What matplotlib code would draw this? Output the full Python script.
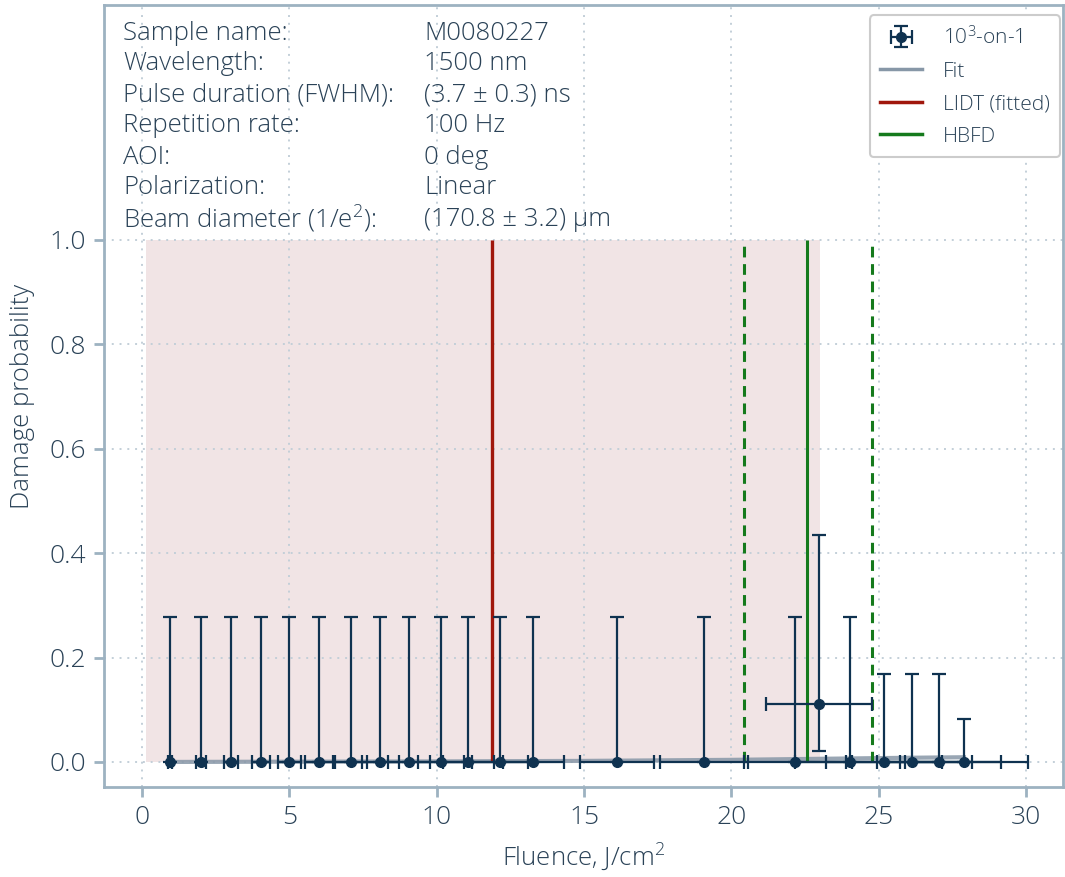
import matplotlib
matplotlib.use("Agg")
import matplotlib.pyplot as plt
import numpy as np

plt.rcParams['font.family'] = ['Open Sans', 'DejaVu Sans']
plt.rcParams['font.weight'] = 'light'
plt.rcParams['axes.labelweight'] = 'light'
plt.rcParams['mathtext.fontset'] = 'custom'
plt.rcParams['mathtext.rm'] = 'Open Sans:light'
plt.rcParams['mathtext.it'] = 'Open Sans:light'

# ---- data ----
fluence = [0.95, 2.0, 3.02, 4.04, 4.99, 6.0, 7.09, 8.08, 9.06, 10.15, 11.07,
           12.15, 13.27, 16.12, 19.07, 22.16, 22.97, 24.02, 25.18, 26.13, 27.04, 27.89]
probability = [0, 0, 0, 0, 0, 0, 0, 0, 0, 0, 0,
               0, 0, 0, 0, 0, 0.111, 0, 0, 0, 0, 0]
prob_err_low = [0, 0, 0, 0, 0, 0, 0, 0, 0, 0, 0,
                0, 0, 0, 0, 0, 0.09, 0, 0, 0, 0, 0]
prob_err_high = [0.277, 0.277, 0.277, 0.277, 0.277, 0.277, 0.277, 0.277, 0.277, 0.277, 0.277,
                 0.277, 0.277, 0.277, 0.277, 0.277, 0.324, 0.277, 0.168, 0.168, 0.168, 0.082]
fluence_rel_err = 0.078

fit_x = [0.95, 5.0, 10.0, 15.0, 20.0, 23.0, 26.0, 27.89]
fit_y = [0.0, 0.0005, 0.001, 0.002, 0.004, 0.006, 0.008, 0.009]

lidt = 11.88
hbfd = 22.55
hbfd_low = 20.43
hbfd_high = 24.77
shade_range = [0.15, 23.0]

info_labels = ["Sample name:", "Wavelength:", "Pulse duration (FWHM):", "Repetition rate:",
               "AOI:", "Polarization:", r"Beam diameter (1/e$^2$):"]
info_values = ["M0080227", "1500 nm", "(3.7 ± 0.3) ns", "100 Hz", "0 deg", "Linear",
               "(170.8 ± 3.2) µm"]

xticks = [0, 5, 10, 15, 20, 25, 30]
yticks = [0.0, 0.2, 0.4, 0.6, 0.8, 1.0]

# ---- style ----
navy = "#0f3250"
spine_c = "#9db2c1"
text_c = "#2a4257"
grid_c = "#c3cfd8"

fig = plt.figure(figsize=(10.65, 8.77), dpi=100)
ax = fig.add_axes([104/1065, 90/877, 959/1065, 782/877])

ax.set_xlim(-1.29, 31.25)
ax.set_ylim(-0.048, 1.45)

ax.fill_between(shade_range, 0, 1, color="#f1e4e5", zorder=0, linewidth=0)

ax.set_xticks(xticks)
ax.set_yticks(yticks)
ax.set_yticklabels([f"{v:.1f}" for v in yticks])
ax.grid(True, linestyle=(0, (1, 3)), color=grid_c, linewidth=1.4, zorder=0.5)
ax.set_axisbelow(True)

for s in ax.spines.values():
    s.set_color(spine_c)
    s.set_linewidth(2)
ax.tick_params(colors=spine_c, labelcolor=text_c, width=2, length=7, labelsize=19, pad=6)

fit_line, = ax.plot(fit_x, fit_y, color="#8797a7", linewidth=3, alpha=0.85, zorder=2, label="Fit")

xerr = [fluence_rel_err * f for f in fluence]
eb = ax.errorbar(fluence, probability, yerr=[prob_err_low, prob_err_high], xerr=xerr,
                 fmt='o', color=navy, markersize=7, elinewidth=1.6, capsize=5, capthick=1.6,
                 zorder=4, label="10$^3$-on-1")

l_lidt = ax.vlines(lidt, 0, 1, color="#a0170c", linewidth=2.4, zorder=3, label="LIDT (fitted)")
l_hbfd = ax.vlines(hbfd, 0, 1, color="#157a1c", linewidth=2.2, zorder=3, label="HBFD")
ax.vlines([hbfd_low, hbfd_high], 0, 1, color="#157a1c", linewidth=2.2, linestyles=(0, (3.5, 2.2)), zorder=3)

ax.set_xlabel("Fluence, J/cm$^2$", fontsize=18.5, color=text_c, labelpad=8, fontweight='light')
ax.set_ylabel("Damage probability", fontsize=18.5, color=text_c, labelpad=10, fontweight='light')

# info text
for i, (lab, val) in enumerate(zip(info_labels, info_values)):
    ypix = 33 + i * 31
    yf = 1 - ypix / 877
    fig.text(123/1065, yf, lab, fontsize=18.5, color=text_c, va='center', ha='left')
    fig.text(424/1065, yf, val, fontsize=18.5, color=text_c, va='center', ha='left')

from matplotlib.lines import Line2D
h_fit = Line2D([], [], color="#8797a7", linewidth=2.5)
h_lidt = Line2D([], [], color="#a0170c", linewidth=2.5)
h_hbfd = Line2D([], [], color="#157a1c", linewidth=2.5)
leg = ax.legend([eb, h_fit, h_lidt, h_hbfd], ["10$^3$-on-1", "Fit", "LIDT (fitted)", "HBFD"],
                loc='upper right', bbox_to_anchor=(1.008, 1.0), borderaxespad=0.5, fontsize=15,
                frameon=True, fancybox=True, edgecolor="#cccccc", framealpha=1,
                handlelength=2.0, borderpad=0.5, labelspacing=0.6, handletextpad=1.0)
leg.get_frame().set_linewidth(1.5)
for t in leg.get_texts():
    t.set_color(text_c)

fig.savefig("out.png", dpi=100)
